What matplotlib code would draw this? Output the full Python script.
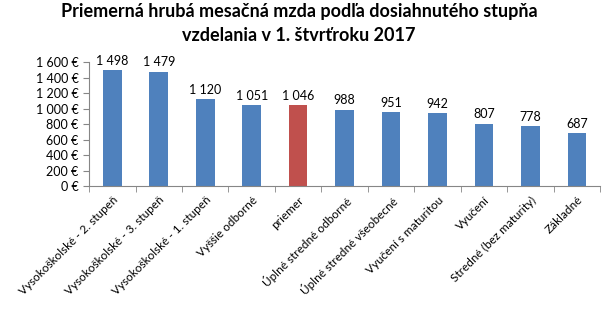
import matplotlib
matplotlib.use("Agg")
from matplotlib import pyplot as plt
from matplotlib.ticker import FuncFormatter
import numpy as np

plt.rcParams['font.family'] = ['Lato', 'DejaVu Sans']

# data
categories = ["Vysokoškolské - 2. stupeň", "Vysokoškolské - 3. stupeň",
              "Vysokoškolské - 1. stupeň", "Vyššie odborné", "priemer",
              "Úplné stredné odborné", "Úplné stredné všeobecné",
              "Vyučení s maturitou", "Vyučení", "Stredné (bez maturity)",
              "Základné"]
values = [1498, 1479, 1120, 1051, 1046, 988, 951, 942, 807, 778, 687]
yticks = [0, 200, 400, 600, 800, 1000, 1200, 1400, 1600]

blue = "#4F81BD"
red = "#C0504D"
colors = [red if c == "priemer" else blue for c in categories]

fig = plt.figure(figsize=(6.10, 3.27), dpi=100)
ax = fig.add_axes([0.146, 0.431, 0.838, 0.379])

x = np.arange(len(categories))
ax.bar(x, values, width=0.4, color=colors)

def sp(v):
    return f"{v:,}".replace(",", " ")

for xi, v in zip(x, values):
    ax.text(xi, v + 40, sp(v), ha="center", va="bottom", fontsize=9)

ax.set_xlim(-0.5, len(categories) - 0.5)
ax.set_ylim(0, 1600)
ax.set_yticks(yticks)
ax.yaxis.set_major_formatter(FuncFormatter(lambda v, p: sp(int(v)) + " €"))
ax.tick_params(axis="y", labelsize=9, length=4, color="#868686")

ax.set_xticks(x)
ax.set_xticklabels(categories, rotation=45, ha="right", rotation_mode="anchor", fontsize=8.5)
ax.tick_params(axis="x", length=0, pad=6)
ax.set_xticks(np.arange(len(categories) + 1) - 0.5, minor=True)
ax.tick_params(axis="x", which="minor", length=4, color="#868686")

for s in ["top", "right"]:
    ax.spines[s].set_visible(False)
for s in ["left", "bottom"]:
    ax.spines[s].set_color("#868686")

fig.suptitle("Priemerná hrubá mesačná mzda podľa dosiahnutého stupňa\nvzdelania v 1. štvrťroku 2017",
             x=0.49, y=0.99, fontsize=13, fontweight="bold", linespacing=1.5)

fig.savefig("out.png", dpi=100)
